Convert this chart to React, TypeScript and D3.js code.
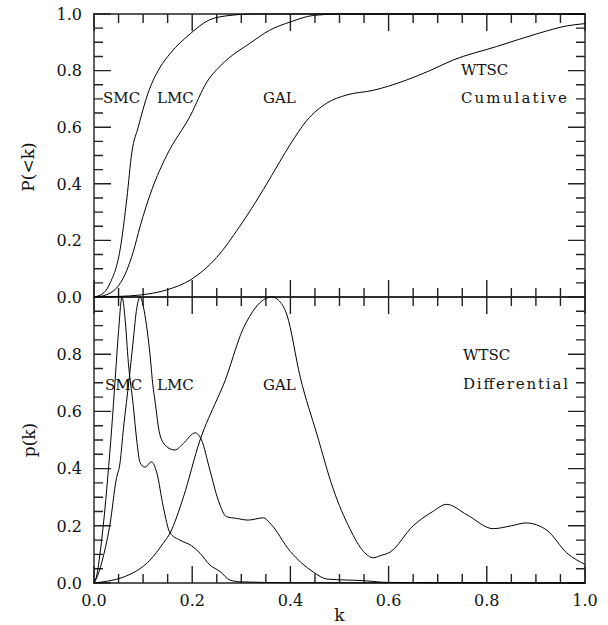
import React from "react";
import * as d3 from "d3";

// Cumulative distributions P(<k)
const smcCumulative: [number, number][] = [
  [0, 0], [0.02, 0.015], [0.033, 0.05], [0.053, 0.166], [0.067, 0.35], [0.077, 0.51],
  [0.09, 0.6], [0.11, 0.72], [0.134, 0.81], [0.155, 0.86], [0.196, 0.93], [0.236, 0.98],
  [0.277, 0.995], [0.32, 1.0], [1.0, 1.0],
];
const lmcCumulative: [number, number][] = [
  [0, 0], [0.015, 0.003], [0.033, 0.014], [0.05, 0.04], [0.067, 0.095], [0.08, 0.16],
  [0.094, 0.25], [0.118, 0.38], [0.148, 0.5], [0.196, 0.64], [0.23, 0.76], [0.263, 0.826],
  [0.318, 0.897], [0.358, 0.943], [0.4, 0.972], [0.447, 0.995], [0.5, 1.0], [1.0, 1.0],
];
const galCumulative: [number, number][] = [
  [0, 0], [0.05, 0.002], [0.094, 0.007], [0.148, 0.025], [0.196, 0.06], [0.25, 0.14],
  [0.297, 0.25], [0.345, 0.38], [0.379, 0.48], [0.4, 0.54], [0.434, 0.625], [0.474, 0.685],
  [0.515, 0.714], [0.568, 0.73], [0.637, 0.767], [0.684, 0.8], [0.731, 0.837], [0.82, 0.885],
  [0.908, 0.933], [0.963, 0.958], [1.0, 0.966],
];

// Differential distributions p(k), each scaled to a unit peak
const smcDifferential: [number, number][] = [
  [0, 0], [0.006, 0.03], [0.012, 0.1], [0.02, 0.22], [0.028, 0.37], [0.036, 0.54],
  [0.043, 0.71], [0.05, 0.88], [0.057, 1.0], [0.063, 0.93], [0.07, 0.77], [0.08, 0.62],
  [0.087, 0.5], [0.094, 0.42], [0.104, 0.405], [0.117, 0.424], [0.128, 0.385], [0.141, 0.267],
  [0.155, 0.175], [0.175, 0.15], [0.199, 0.13], [0.216, 0.104], [0.236, 0.063], [0.257, 0.04],
  [0.277, 0.01], [0.3, 0.004], [0.4, 0.001], [1.0, 0],
];
const lmcDifferential: [number, number][] = [
  [0, 0], [0.006, 0.02], [0.02, 0.1], [0.033, 0.21], [0.045, 0.36], [0.053, 0.42],
  [0.06, 0.54], [0.072, 0.72], [0.08, 0.85], [0.087, 0.96], [0.094, 1.0], [0.1, 0.97],
  [0.107, 0.9], [0.114, 0.8], [0.12, 0.69], [0.124, 0.64], [0.134, 0.52], [0.148, 0.477],
  [0.165, 0.465], [0.182, 0.488], [0.206, 0.525], [0.219, 0.5], [0.236, 0.395], [0.253, 0.29],
  [0.27, 0.232], [0.29, 0.226], [0.314, 0.22], [0.345, 0.228], [0.358, 0.21], [0.4, 0.11],
  [0.447, 0.038], [0.474, 0.014], [0.55, 0.008], [0.6, 0.002], [1.0, 0],
];
const galDifferential: [number, number][] = [
  [0, 0], [0.073, 0.03], [0.114, 0.08], [0.141, 0.139], [0.155, 0.175], [0.182, 0.3],
  [0.216, 0.5], [0.25, 0.64], [0.263, 0.69], [0.304, 0.89], [0.33, 0.965], [0.345, 0.99],
  [0.362, 1.0], [0.375, 0.99], [0.393, 0.937], [0.42, 0.72], [0.454, 0.52], [0.487, 0.33],
  [0.521, 0.19], [0.549, 0.11], [0.569, 0.088], [0.582, 0.095], [0.603, 0.108], [0.65, 0.2],
  [0.69, 0.25], [0.718, 0.275], [0.76, 0.238], [0.813, 0.19], [0.85, 0.2], [0.88, 0.21],
  [0.922, 0.185], [0.963, 0.105], [1.0, 0.065],
];

const xTickLabels = ["0.0", "0.2", "0.4", "0.6", "0.8", "1.0"];
const topYTickLabels = ["0.0", "0.2", "0.4", "0.6", "0.8", "1.0"];
const bottomYTickLabels = ["0.0", "0.2", "0.4", "0.6", "0.8"];
// Tick marks every 0.05 on both axes; every fourth one is a long tick
const tickValues = [
  0, 0.05, 0.1, 0.15, 0.2, 0.25, 0.3, 0.35, 0.4, 0.45, 0.5,
  0.55, 0.6, 0.65, 0.7, 0.75, 0.8, 0.85, 0.9, 0.95, 1.0,
];

const W = 608;
const H = 625;
const LEFT = 94;
const RIGHT = 585;
const MAJOR = 17;
const MINOR = 9;
const FONT = "'DejaVu Serif', serif";

const xScale = d3.scaleLinear().domain([0, 1]).range([LEFT, RIGHT]);
const yTop = d3.scaleLinear().domain([0, 1]).range([297, 14]);
const yBot = d3.scaleLinear().domain([0, 1]).range([583, 297]);

const pixelLine = d3.line<[number, number]>();

// Each side of a panel as one continuous stroke running along the axis
// and out to every inward tick and back.
function sidePaths(y: d3.ScaleLinear<number, number>): string[] {
  const [yb, yt] = y.range();
  const bottom: [number, number][] = [];
  const top: [number, number][] = [];
  const leftSide: [number, number][] = [];
  const rightSide: [number, number][] = [];
  tickValues.forEach((v, i) => {
    const len = i % 4 === 0 ? MAJOR : MINOR;
    const px = xScale(v);
    const py = y(v);
    bottom.push([px, yb], [px, yb - len], [px, yb]);
    top.push([px, yt], [px, yt + len], [px, yt]);
    leftSide.push([LEFT, py], [LEFT + len, py], [LEFT, py]);
    rightSide.push([RIGHT, py], [RIGHT - len, py], [RIGHT, py]);
  });
  return [bottom, top, leftSide, rightSide].map((pts) => pixelLine(pts) ?? "");
}

export default function App() {
  const lineTop = d3
    .line<[number, number]>()
    .x((d) => xScale(d[0]))
    .y((d) => yTop(d[1]))
    .curve(d3.curveMonotoneX);
  const lineBot = d3
    .line<[number, number]>()
    .x((d) => xScale(d[0]))
    .y((d) => yBot(d[1]))
    .curve(d3.curveMonotoneX);

  const axisPaths = [...sidePaths(yTop), ...sidePaths(yBot)];

  const label = (t: string, lx: number, ly: number, len?: number) => (
    <text
      x={lx}
      y={ly}
      fontSize={15}
      fontFamily={FONT}
      fill="#111"
      {...(len ? { textLength: len, lengthAdjust: "spacing" } : {})}
    >
      {t}
    </text>
  );

  return (
    <svg width={W} height={H} style={{ position: "absolute", left: 0, top: 0, background: "#fff" }}>
      <g fill="none" stroke="#222" strokeWidth={1.4} strokeLinecap="square">
        {axisPaths.map((d, i) => (
          <path key={i} d={d} />
        ))}
      </g>

      {topYTickLabels.map((t) => (
        <text key={"t" + t} x={82} y={yTop(+t)} dy="0.36em" textAnchor="end" fontSize={16} fontFamily={FONT} fill="#111">
          {t}
        </text>
      ))}
      {bottomYTickLabels.map((t) => (
        <text key={"b" + t} x={82} y={yBot(+t)} dy="0.36em" textAnchor="end" fontSize={16} fontFamily={FONT} fill="#111">
          {t}
        </text>
      ))}

      <g fill="none" stroke="#000" strokeWidth={1}>
        <path d={lineTop(smcCumulative) ?? ""} />
        <path d={lineTop(lmcCumulative) ?? ""} />
        <path d={lineTop(galCumulative) ?? ""} />
        <path d={lineBot(smcDifferential) ?? ""} />
        <path d={lineBot(lmcDifferential) ?? ""} />
        <path d={lineBot(galDifferential) ?? ""} />
      </g>

      {xTickLabels.map((t) => (
        <text key={t} x={xScale(+t)} y={606} textAnchor="middle" fontSize={16} fontFamily={FONT} fill="#111">
          {t}
        </text>
      ))}
      <text x={xScale(0.5)} y={621} textAnchor="middle" fontSize={17} fontFamily={FONT} fill="#111">
        k
      </text>
      <text transform="translate(34,167) rotate(-90)" textAnchor="middle" fontSize={17} fontFamily={FONT} fill="#111">
        P(&lt;k)
      </text>
      <text transform="translate(35,440) rotate(-90)" textAnchor="middle" fontSize={17} fontFamily={FONT} fill="#111">
        p(k)
      </text>

      {label("SMC", 103, 103)}
      {label("LMC", 157, 103)}
      {label("GAL", 263, 103)}
      {label("WTSC", 461, 75)}
      {label("Cumulative", 461, 103, 106)}

      {label("SMC", 105, 390)}
      {label("LMC", 157, 390)}
      {label("GAL", 263, 390)}
      {label("WTSC", 463, 360)}
      {label("Differential", 463, 389, 105)}
    </svg>
  );
}
